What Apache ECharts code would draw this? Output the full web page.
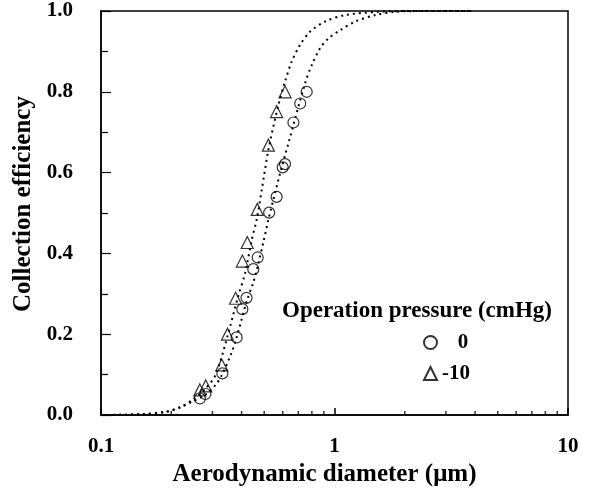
<!DOCTYPE html>
<html>
<head>
<meta charset="utf-8">
<script src="https://cdn.jsdelivr.net/npm/echarts@6/dist/echarts.min.js"></script>
<style>
  html, body { margin: 0; padding: 0; background: #fff; }
  #chart { width: 591px; height: 495px; }
</style>
</head>
<body>
<div id="chart"></div>
<script>
// measured points, 0 cmHg (circles)
var p0X = [0.265, 0.280, 0.331, 0.381, 0.403, 0.420, 0.449, 0.469, 0.525, 0.565, 0.600, 0.614, 0.667, 0.713, 0.760];
var p0Y = [0.041, 0.052, 0.103, 0.192, 0.262, 0.290, 0.361, 0.390, 0.501, 0.540, 0.613, 0.621, 0.724, 0.771, 0.800];
// measured points, -10 cmHg (triangles)
var p10X = [0.265, 0.281, 0.329, 0.348, 0.377, 0.403, 0.423, 0.467, 0.521, 0.565, 0.614];
var p10Y = [0.062, 0.072, 0.124, 0.200, 0.289, 0.381, 0.427, 0.509, 0.668, 0.751, 0.800];

// fitted curves (dotted)
var c0X = [0.1, 0.15, 0.19, 0.22, 0.25, 0.28, 0.31, 0.33, 0.36, 0.38, 0.42, 0.45, 0.472, 0.496, 0.521, 0.575, 0.635, 0.748, 0.799, 0.868, 0.942, 1.06, 1.227, 1.496, 1.82, 2.5, 3.9];
var c0Y = [0, 0.002, 0.008, 0.02, 0.035, 0.05, 0.075, 0.1, 0.15, 0.19, 0.28, 0.33, 0.375, 0.428, 0.483, 0.582, 0.673, 0.821, 0.866, 0.908, 0.932, 0.953, 0.974, 0.99, 0.998, 1.0, 1.0];
var c10X = [0.1, 0.15, 0.19, 0.22, 0.25, 0.28, 0.31, 0.35, 0.385, 0.414, 0.442, 0.464, 0.488, 0.521, 0.575, 0.614, 0.656, 0.712, 0.787, 0.912, 1.11, 1.54, 2.2, 3.9];
var c10Y = [0, 0.002, 0.008, 0.02, 0.04, 0.065, 0.1, 0.2, 0.29, 0.351, 0.433, 0.483, 0.557, 0.656, 0.767, 0.825, 0.875, 0.916, 0.949, 0.974, 0.99, 0.998, 1.0, 1.0];

var xMinorTicks = [0.2, 0.3, 0.4, 0.5, 0.6, 0.7, 0.8, 0.9, 2, 3, 4, 5, 6, 7, 8, 9];

function zip(xs, ys) {
  return xs.map(function (x, i) { return [x, ys[i]]; });
}

var FONT = '"Liberation Serif", "Times New Roman", serif';
var chart = echarts.init(document.getElementById('chart'));

var dotted = { color: '#000', width: 2, type: [2, 4] };
var hollow = { color: 'rgba(0,0,0,0)', borderColor: '#000', borderWidth: 1.2 };

chart.setOption({
  animation: false,
  backgroundColor: '#fff',
  grid: { left: 101, right: 23, top: 11, bottom: 80, show: true, borderColor: '#000', borderWidth: 1.5, backgroundColor: 'transparent' },
  xAxis: {
    type: 'log', logBase: 10, min: 0.1, max: 10,
    name: 'Aerodynamic diameter (\u03bcm)', nameLocation: 'middle', nameGap: 45,
    nameTextStyle: { fontFamily: FONT, fontWeight: 'bold', fontSize: 25, color: '#000', padding: [0, 20, 0, 0] },
    axisLine: { lineStyle: { color: '#000', width: 1.5 } },
    axisTick: { inside: true, length: 7, lineStyle: { color: '#000', width: 1.5 } },
    axisLabel: { margin: 21, fontFamily: FONT, fontWeight: 'bold', fontSize: 21, color: '#000' },
    splitLine: { show: false }
  },
  yAxis: {
    type: 'value', min: 0, max: 1, interval: 0.2,
    name: 'Collection efficiency', nameLocation: 'middle', nameGap: 65,
    nameTextStyle: { fontFamily: FONT, fontWeight: 'bold', fontSize: 25, color: '#000', padding: [0, 0, 0, 18] },
    axisLine: { show: true, lineStyle: { color: '#000', width: 1.5 } },
    axisTick: { show: true, inside: true, length: 10, lineStyle: { color: '#000', width: 1.2 } },
    minorTick: { show: true, splitNumber: 2, length: 7, lineStyle: { color: '#000', width: 1.2 } },
    axisLabel: { margin: 28, fontFamily: FONT, fontWeight: 'bold', fontSize: 21, color: '#000',
      formatter: function (v) { return v.toFixed(1); } },
    splitLine: { show: false }
  },
  legend: {
    orient: 'vertical', left: 418, top: 327, itemGap: 10,
    itemWidth: 13, itemHeight: 13,
    data: ['0', '-10'],
    formatter: function (n) { return n === '0' ? '   0' : n; },
    textStyle: { fontFamily: FONT, fontWeight: 'bold', fontSize: 21, color: '#000' }
  },
  graphic: [{
    type: 'text', left: 282, top: 300,
    style: { text: 'Operation pressure (cmHg)', font: 'bold 23px ' + FONT, fill: '#000' }
  }],
  series: [
    { type: 'line', name: 'fit0', data: zip(c0X, c0Y), showSymbol: false, smooth: 0.3, lineStyle: dotted, silent: true },
    { type: 'line', name: 'fit10', data: zip(c10X, c10Y), showSymbol: false, smooth: 0.3, lineStyle: dotted, silent: true },
    { type: 'scatter', name: '0', data: zip(p0X, p0Y), symbol: 'circle', symbolSize: 11, itemStyle: hollow },
    { type: 'scatter', name: '-10', data: zip(p10X, p10Y), symbol: 'triangle', symbolSize: 12, itemStyle: hollow },
    { type: 'scatter', name: 'minor', data: xMinorTicks.map(function (x) { return [x, 0]; }),
      symbol: 'rect', symbolSize: [1.5, 4], symbolOffset: [0, -2], itemStyle: { color: '#000' }, silent: true, z: 1 }
  ]
});
</script>
</body>
</html>
